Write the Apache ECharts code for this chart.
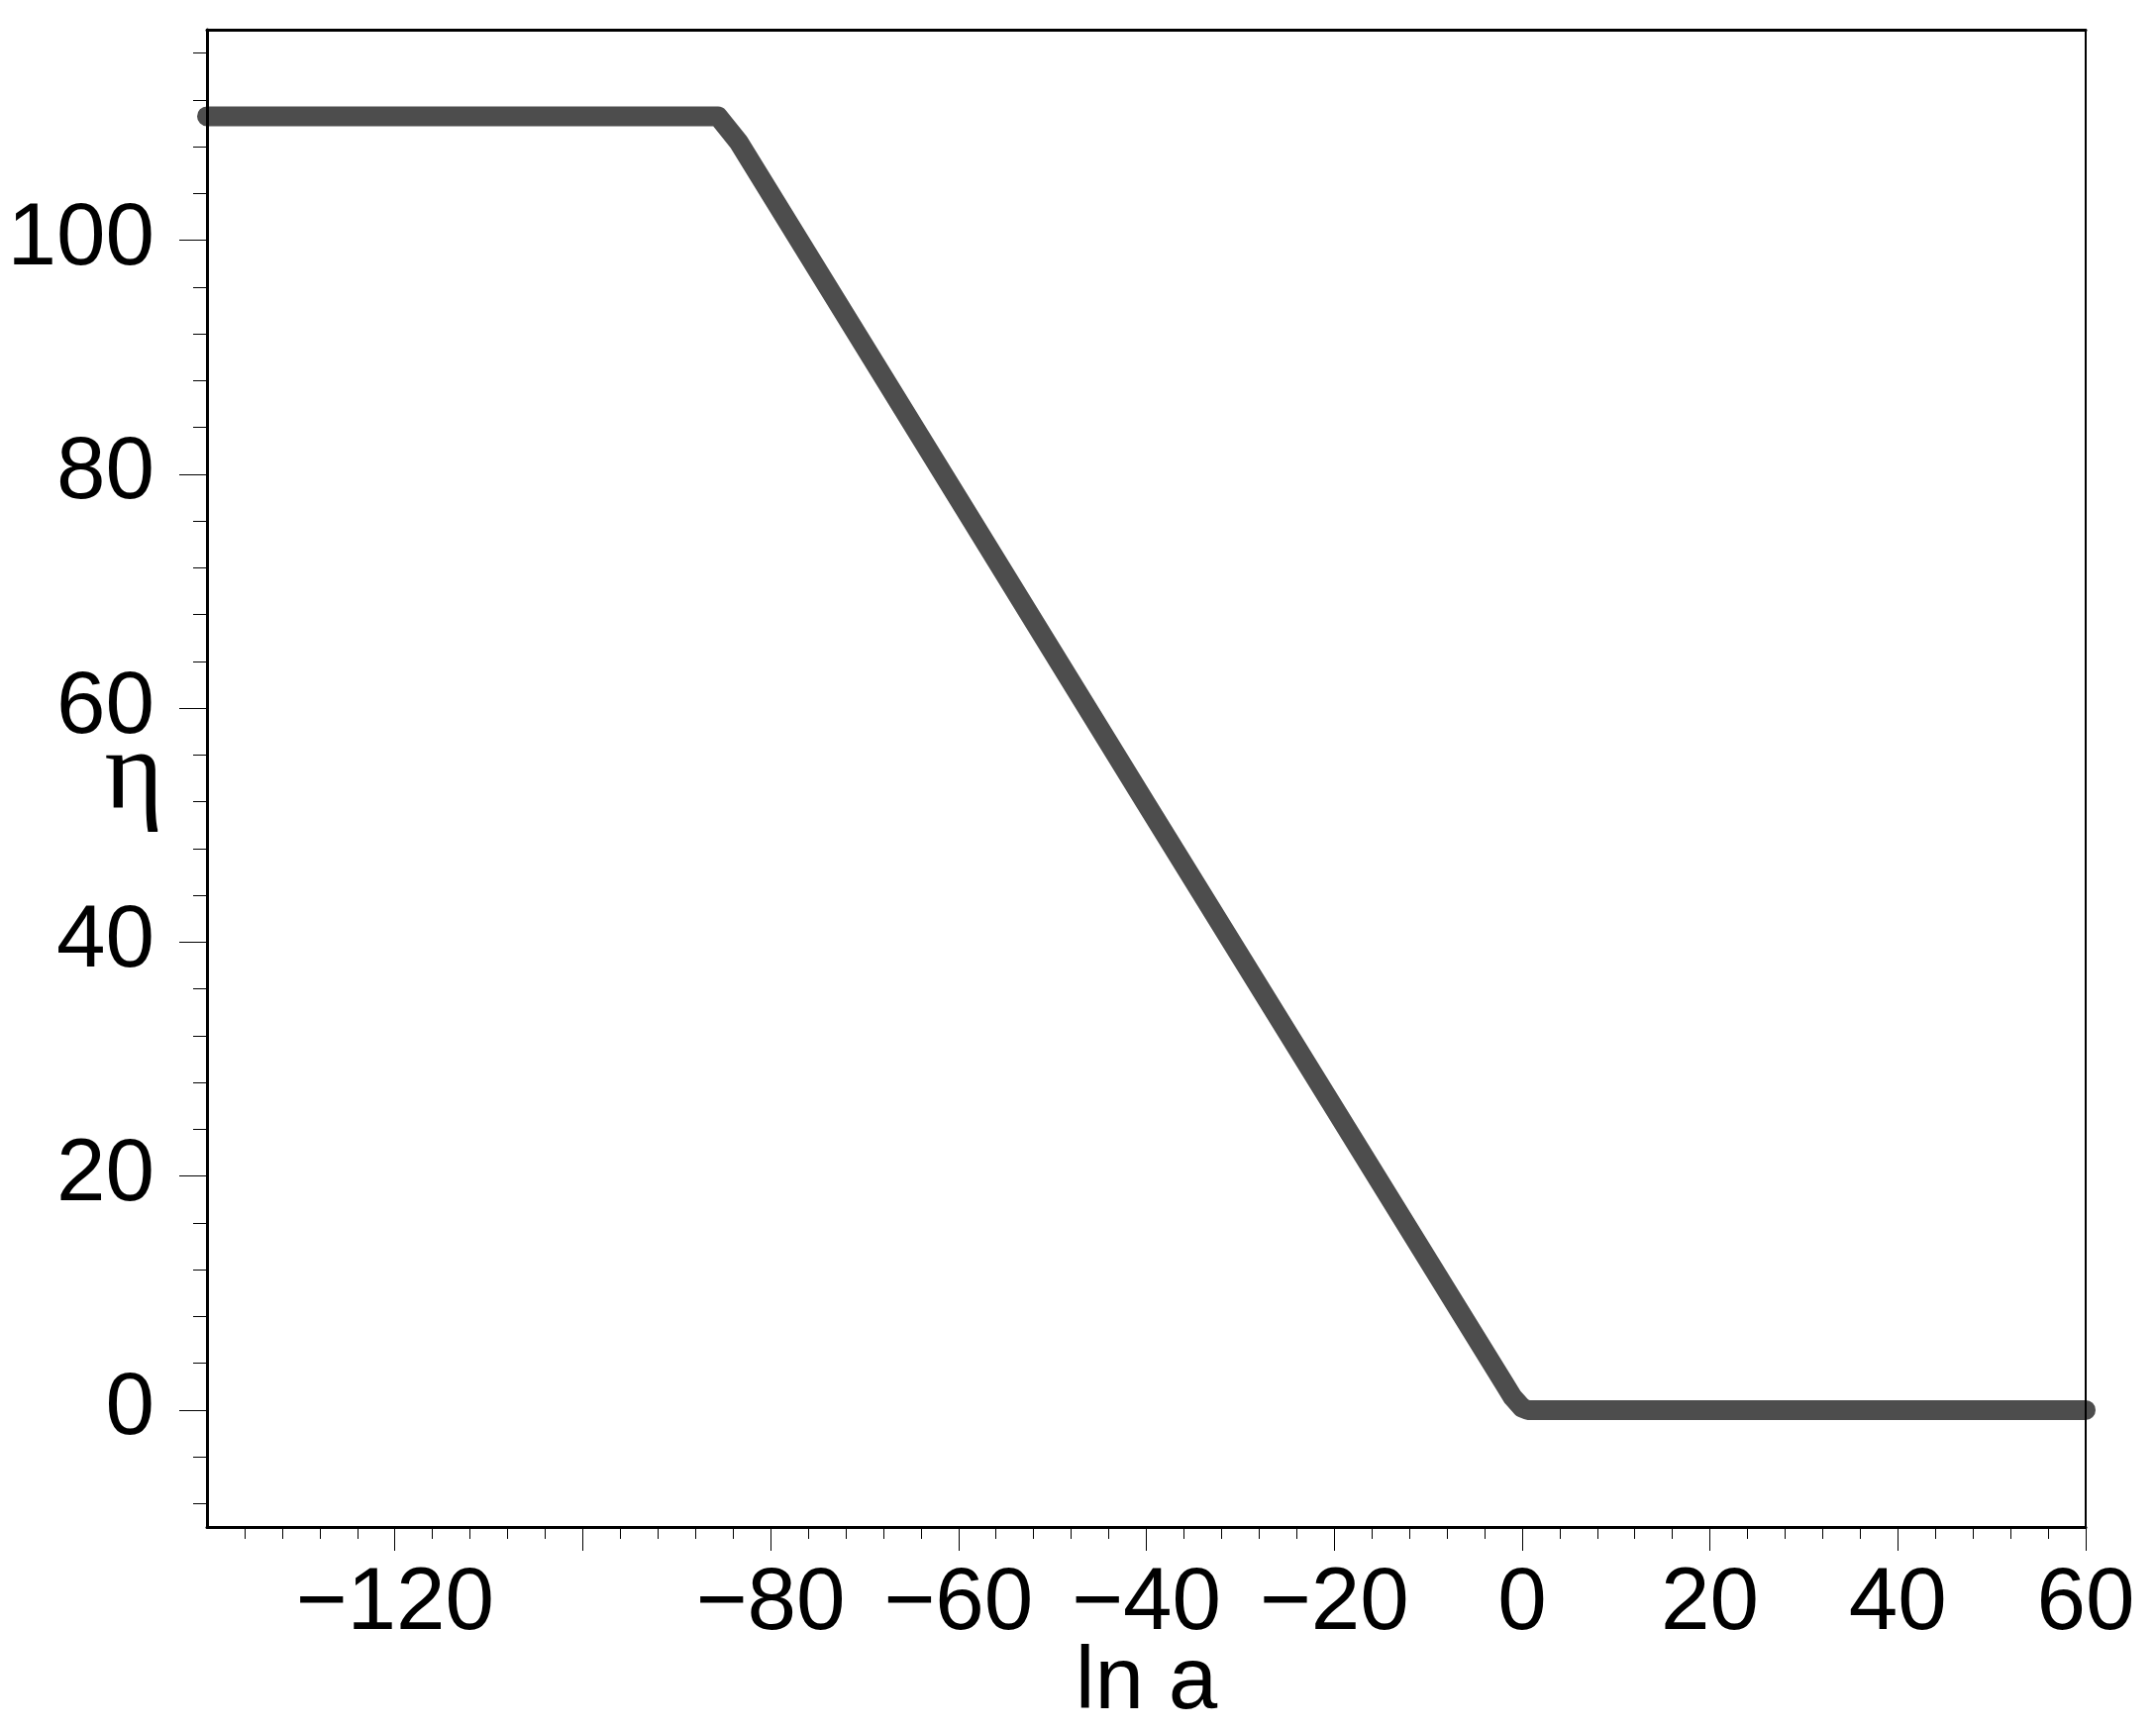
<!DOCTYPE html>
<html>
<head>
<meta charset="utf-8">
<title>eta vs ln a</title>
<script src="https://cdn.jsdelivr.net/npm/echarts@6/dist/echarts.min.js"></script>
<style>
    html, body {
        margin: 0;
        padding: 0;
        background: #fff;
    }
    #chart {
        width: 2177px;
        height: 1747px;
    }
</style>
</head>
<body>
<div id="chart"></div>
<script>
// curve: ln a on x, eta on y
var lnA = [-140, -85.6, -83.4, -60, -40, -20, -2, -1, 0, 0.6, 60]
var eta = [110.6, 110.6, 108.4, 77.9, 51.8, 25.8, 2.4, 1.1, 0.2, 0, 0]

// ticks
var xMajorTicks = [-120, -100, -80, -60, -40, -20, 0, 20, 40, 60]
var xLabels = [-120, -80, -60, -40, -20, 0, 20, 40, 60]
var xMinorTicks = []
for (var v = -136; v < 60; v += 4) {
    if (v % 20 !== 0) xMinorTicks.push(v)
}
var yMajorTicks = [0, 20, 40, 60, 80, 100]
var yLabels = [0, 20, 40, 60, 80, 100]
var yMinorTicks = []
for (var w = -8; w <= 116; w += 4) {
    if (w % 20 !== 0) yMinorTicks.push(w)
}

var xMin = -140, xMax = 60
var yMin = -10, yMax = 118

var chart = echarts.init(document.getElementById('chart'))

var lineData = []
for (var i = 0; i < lnA.length; i++) {
    lineData.push([lnA[i], eta[i]])
}

// 负号用 U+2212
function minusFmt(val) {
    return String(val).replace('-', '\u2212')
}

var labelFont = {
    fontFamily: 'Liberation Sans, Arial, sans-serif',
    fontSize: 89,
    color: '#000'
}

var option = {
    animation: false,
    backgroundColor: '#fff',
    grid: {
        left: 209,
        top: 30,
        width: 1897,
        height: 1512,
        show: false,
        outerBoundsMode: 'none',
        containLabel: false
    },
    xAxis: [
        {
            // main bottom axis: major ticks + labels
            type: 'value',
            min: xMin,
            max: xMax,
            position: 'bottom',
            z: 5,
            axisLine: { show: true, onZero: false, lineStyle: { color: '#000', width: 3 } },
            axisTick: { show: true, inside: false, length: 24, customValues: xMajorTicks, lineStyle: { color: '#000', width: 1 } },
            axisLabel: Object.assign({ show: true, margin: 34, customValues: xLabels, formatter: minusFmt }, labelFont),
            splitLine: { show: false },
            name: 'ln a',
            nameLocation: 'middle',
            nameGap: 114,
            nameMoveOverlap: false,
            nameTextStyle: labelFont
        },
        {
            // minor ticks
            type: 'value',
            min: xMin,
            max: xMax,
            position: 'bottom',
            z: 5,
            axisLine: { show: false, onZero: false },
            axisTick: { show: true, inside: false, length: 12, customValues: xMinorTicks, lineStyle: { color: '#000', width: 1 } },
            axisLabel: { show: false },
            splitLine: { show: false }
        },
        {
            // top border
            type: 'value',
            min: xMin,
            max: xMax,
            position: 'top',
            z: 5,
            axisLine: { show: true, onZero: false, lineStyle: { color: '#000', width: 3 } },
            axisTick: { show: false },
            axisLabel: { show: false },
            splitLine: { show: false }
        }
    ],
    yAxis: [
        {
            type: 'value',
            min: yMin,
            max: yMax,
            position: 'left',
            z: 5,
            axisLine: { show: true, onZero: false, lineStyle: { color: '#000', width: 3 } },
            axisTick: { show: true, inside: false, length: 28, customValues: yMajorTicks, lineStyle: { color: '#000', width: 1 } },
            axisLabel: Object.assign({ show: true, margin: 53, customValues: yLabels, formatter: minusFmt }, labelFont),
            splitLine: { show: false },
            name: '\u03b7',
            nameLocation: 'middle',
            nameRotate: 0,
            nameGap: 44,
            nameMoveOverlap: false,
            nameTextStyle: {
                fontFamily: 'Liberation Serif, Times New Roman, serif',
                fontSize: 114,
                color: '#000'
            }
        },
        {
            // minor ticks
            type: 'value',
            min: yMin,
            max: yMax,
            position: 'left',
            z: 5,
            axisLine: { show: false, onZero: false },
            axisTick: { show: true, inside: false, length: 14, customValues: yMinorTicks, lineStyle: { color: '#000', width: 1 } },
            axisLabel: { show: false },
            splitLine: { show: false }
        },
        {
            // right border
            type: 'value',
            min: yMin,
            max: yMax,
            position: 'right',
            z: 5,
            axisLine: { show: true, onZero: false, lineStyle: { color: '#000', width: 2 } },
            axisTick: { show: false },
            axisLabel: { show: false },
            splitLine: { show: false }
        }
    ],
    series: [
        {
            type: 'line',
            xAxisIndex: 0,
            yAxisIndex: 0,
            data: lineData,
            showSymbol: false,
            symbol: 'none',
            clip: false,
            z: 1,
            lineStyle: {
                color: '#4d4d4d',
                width: 20,
                cap: 'round',
                join: 'round'
            }
        }
    ]
}

chart.setOption(option)
</script>
</body>
</html>
